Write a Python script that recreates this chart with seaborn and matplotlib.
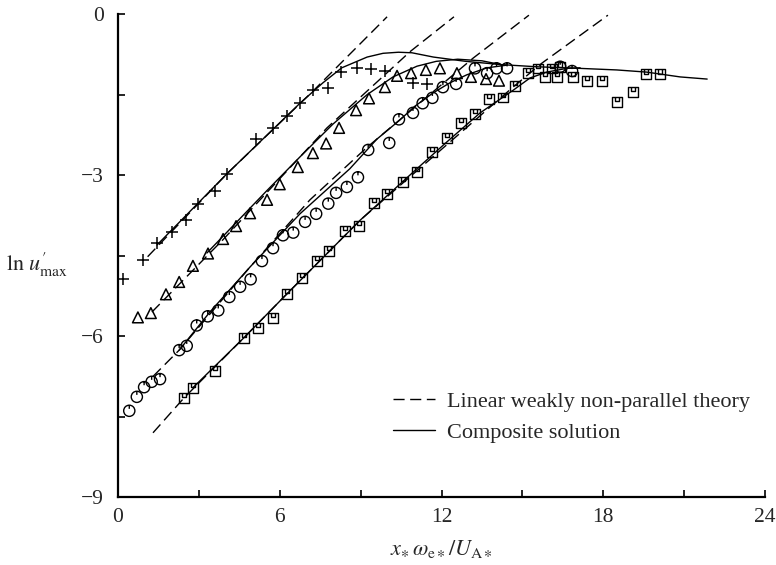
import numpy as np
import pandas as pd
import matplotlib
matplotlib.use("Agg")
import matplotlib.pyplot as plt
from matplotlib.path import Path
from matplotlib.lines import Line2D
from matplotlib.ticker import MultipleLocator
import seaborn as sns

# ---------------- data ----------------
plus_x = [0.19, 0.92, 1.45, 2.0, 2.52, 2.97, 3.6, 4.05, 5.12, 5.75, 6.27, 6.75,
          7.23, 7.8, 8.27, 8.87, 9.38, 9.9, 10.95, 11.46]
plus_y = [-4.93, -4.58, -4.27, -4.06, -3.84, -3.53, -3.30, -2.97, -2.33, -2.13,
          -1.90, -1.66, -1.42, -1.38, -1.08, -1.01, -1.03, -1.06, -1.28, -1.31]

tri_x = [0.74, 1.22, 1.78, 2.27, 2.78, 3.34, 3.9, 4.38, 4.9, 5.53, 6.0, 6.67, 7.23,
         7.72, 8.2, 8.83, 9.31, 9.9, 10.35, 10.87, 11.42, 11.94, 12.57, 13.09,
         13.65, 14.13]
tri_y = [-5.65, -5.57, -5.22, -4.99, -4.69, -4.46, -4.19, -3.95, -3.71, -3.46,
         -3.17, -2.85, -2.59, -2.41, -2.12, -1.79, -1.57, -1.36, -1.15, -1.10,
         -1.04, -1.01, -1.10, -1.17, -1.21, -1.24]

circ_x = [0.42, 0.7, 0.97, 1.25, 1.56, 2.27, 2.55, 2.92, 3.33, 3.72, 4.13, 4.53,
          4.92, 5.34, 5.75, 6.12, 6.5, 6.94, 7.35, 7.8, 8.09, 8.49, 8.9, 9.28,
          10.06, 10.42, 10.94, 11.3, 11.66, 12.05, 12.54, 13.24, 13.69, 14.04,
          14.43, 16.4, 16.84]
circ_y = [-7.39, -7.13, -6.95, -6.85, -6.80, -6.26, -6.18, -5.80, -5.63, -5.52,
          -5.27, -5.08, -4.94, -4.60, -4.36, -4.12, -4.07, -3.87, -3.72, -3.53,
          -3.33, -3.22, -3.04, -2.53, -2.40, -1.96, -1.84, -1.66, -1.56, -1.36,
          -1.30, -1.01, -1.10, -1.01, -1.01, -0.98, -1.06]

sq_x = [2.45, 2.78, 3.6, 4.67, 5.19, 5.75, 6.27, 6.82, 7.38, 7.83, 8.42, 8.94,
        9.5, 9.98, 10.57, 11.09, 11.65, 12.2, 12.72, 13.24, 13.76, 14.28, 14.73,
        15.21, 15.58, 15.84, 16.1, 16.28, 16.39, 16.88, 17.4, 17.95, 18.51,
        19.1, 19.58, 20.1]
sq_y = [-7.15, -6.96, -6.65, -6.03, -5.85, -5.66, -5.21, -4.92, -4.60, -4.41,
        -4.04, -3.95, -3.52, -3.35, -3.13, -2.94, -2.57, -2.31, -2.03, -1.86,
        -1.58, -1.55, -1.34, -1.10, -1.01, -1.17, -1.01, -1.17, -0.99, -1.17,
        -1.25, -1.25, -1.64, -1.45, -1.12, -1.12]

# linear weakly non-parallel theory (dashed)
lin1_x = [1.1, 4.05, 7.2, 9.98]
lin1_y = [-4.52, -2.97, -1.45, -0.05]
lin2_x = [1.26, 3.9, 7.75, 10.83, 12.46]
lin2_y = [-5.55, -4.2, -2.12, -0.70, -0.05]
lin3_x = [1.3, 2.27, 4.9, 7.12, 9.24, 13.17, 15.24]
lin3_y = [-6.75, -6.26, -4.71, -3.46, -2.48, -0.82, -0.02]
lin4_x = [1.3, 2.45, 4.67, 6.27, 8.98, 14.65, 15.73, 18.17]
lin4_y = [-7.8, -7.15, -6.03, -5.21, -3.84, -1.36, -0.91, -0.02]

# composite solution (solid)
comp1_x = [1.45, 4.05, 6.75, 7.6, 8.3, 9.24, 9.83, 10.4, 10.9, 11.7, 12.9, 14.2,
           15.5, 17.1, 18.5, 19.6, 20.85, 21.85]
comp1_y = [-4.3, -2.97, -1.66, -1.28, -1.0, -0.8, -0.73, -0.71, -0.72, -0.8,
           -0.88, -0.94, -0.98, -1.01, -1.04, -1.08, -1.17, -1.21]
comp2_x = [3.3, 5.5, 6.75, 7.97, 9.24, 10.2, 11.09, 11.8, 12.6, 13.5, 14.2]
comp2_y = [-4.45, -3.3, -2.66, -2.05, -1.5, -1.17, -0.97, -0.88, -0.84, -0.87, -0.94]
comp3_x = [2.27, 3.41, 4.9, 6.75, 8.6, 9.6, 10.46, 11.0, 11.68, 12.31, 12.94,
           13.69, 14.43]
comp3_y = [-6.26, -5.55, -4.71, -3.72, -2.88, -2.33, -1.97, -1.72, -1.47, -1.28,
           -1.13, -1.0, -0.95]
comp4_x = [2.78, 4.67, 6.27, 8.98, 11.0, 12.2, 13.43, 14.65, 15.28, 15.9, 16.65,
           17.14]
comp4_y = [-6.96, -6.03, -5.21, -3.84, -2.92, -2.38, -1.84, -1.42, -1.19, -1.08,
           -1.01, -1.0]

x_ticks = [0, 6, 12, 18, 24]
y_ticks = [-9, -6, -3, 0]
legend_labels = ["Linear weakly non-parallel theory", "Composite solution"]
x_label = r"$x_{\ast}\,\omega_{\mathrm{e}\ast}/U_{\mathrm{A}\ast}$"
y_label = r"$\mathrm{ln}\ u^{\prime}_{\mathrm{max}}$"

# ---------------- style ----------------
sns.set_style("ticks")
plt.rcParams["font.family"] = ["Liberation Serif", "DejaVu Serif"]
plt.rcParams["mathtext.fontset"] = "stix"
plt.rcParams["axes.unicode_minus"] = True

fig = plt.figure(figsize=(7.76, 5.65), dpi=100)
ax = fig.add_axes([0.152, 0.120, 0.834, 0.855])

# custom markers: circle with a tick, square with a small "U"
circ_path = Path.make_compound_path(
    Path.unit_circle(),
    Path([[0, 1.0], [0, 0.35]], [Path.MOVETO, Path.LINETO]))
sq_outline = Path([[-1, -1], [1, -1], [1, 1], [-1, 1], [-1, -1]],
                  [Path.MOVETO, Path.LINETO, Path.LINETO, Path.LINETO, Path.CLOSEPOLY])
sq_u = Path([[-0.35, 1.0], [-0.35, 0.15], [0.35, 0.15], [0.35, 1.0]],
            [Path.MOVETO, Path.LINETO, Path.LINETO, Path.LINETO])
sq_path = Path.make_compound_path(sq_outline, sq_u)

lw_line = 1.0
dash = (8, 4)

def draw_line(xs, ys, dashed):
    df = pd.DataFrame({"x": xs, "y": ys})
    sns.lineplot(data=df, x="x", y="y", ax=ax, color="black", lw=lw_line,
                 sort=False, estimator=None)
    line = ax.lines[-1]
    if dashed:
        line.set_dashes(dash)
    return line

for xs, ys in [(lin1_x, lin1_y), (lin2_x, lin2_y), (lin3_x, lin3_y), (lin4_x, lin4_y)]:
    draw_line(xs, ys, True)
for xs, ys in [(comp1_x, comp1_y), (comp2_x, comp2_y), (comp3_x, comp3_y), (comp4_x, comp4_y)]:
    draw_line(xs, ys, False)

sns.scatterplot(x=plus_x, y=plus_y, ax=ax, marker="+", color="black", s=80,
                linewidths=1.1, zorder=5)
sns.scatterplot(x=tri_x, y=tri_y, ax=ax, marker="^", facecolor="none",
                edgecolor="black", s=60, linewidth=1.1, zorder=5)
sns.scatterplot(x=circ_x, y=circ_y, ax=ax, marker=circ_path, facecolor="none",
                edgecolor="black", s=65, linewidth=1.0, zorder=5)
sns.scatterplot(x=sq_x, y=sq_y, ax=ax, marker=sq_path, facecolor="none",
                edgecolor="black", s=48, linewidth=1.0, zorder=5)

ax.set_xlim(0, 24)
ax.set_ylim(-9, 0)
ax.set_xticks(x_ticks)
ax.set_yticks(y_ticks)
ax.xaxis.set_minor_locator(MultipleLocator(3))
ax.yaxis.set_minor_locator(MultipleLocator(1.5))
ax.tick_params(which="both", direction="in", length=5, width=1.2, color="black",
               labelsize=15.5)
ax.tick_params(axis="x", pad=8)
ax.tick_params(axis="y", pad=10)
for side in ["top", "right"]:
    ax.spines[side].set_visible(False)
for side in ["left", "bottom"]:
    ax.spines[side].set_linewidth(1.6)
    ax.spines[side].set_color("black")

ax.set_xlabel(x_label, fontsize=16, labelpad=8)
ax.set_ylabel(y_label, fontsize=16, rotation=0, va="center", ha="center")
ax.yaxis.set_label_coords(-0.125, 0.48)

handles = [Line2D([0], [0], color="black", lw=lw_line, dashes=dash),
           Line2D([0], [0], color="black", lw=lw_line)]
ax.legend(handles, legend_labels, loc="center left",
          bbox_to_anchor=(0.425, 0.166), frameon=False, fontsize=16,
          handlelength=1.9, handletextpad=0.55, labelspacing=0.45, borderaxespad=0,
          borderpad=0)

fig.savefig("out.png", dpi=100, facecolor="white")
